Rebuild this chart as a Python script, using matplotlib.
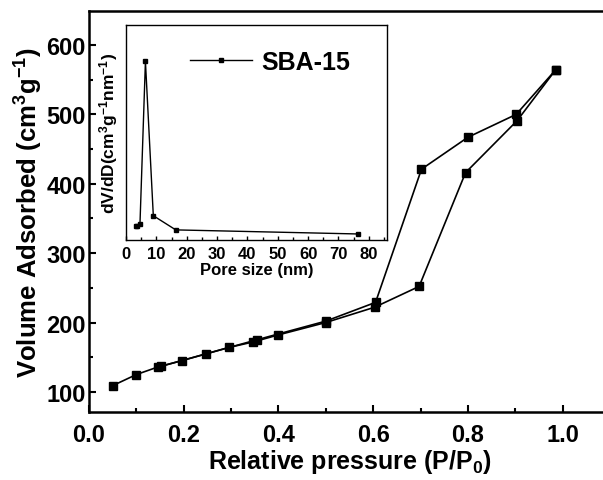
import matplotlib
matplotlib.use("Agg")
import matplotlib.pyplot as plt
from matplotlib.ticker import MultipleLocator

plt.rcParams['font.family'] = ['Liberation Sans', 'DejaVu Sans']
plt.rcParams['font.weight'] = 'bold'
plt.rcParams['mathtext.fontset'] = 'custom'
plt.rcParams['mathtext.rm'] = 'Liberation Sans:bold'
plt.rcParams['mathtext.it'] = 'Liberation Sans:bold'
plt.rcParams['mathtext.bf'] = 'Liberation Sans:bold'
plt.rcParams['mathtext.default'] = 'bf'

# Main isotherm data
p_ads = [0.05, 0.10, 0.146, 0.196, 0.248, 0.295, 0.347, 0.399, 0.50, 0.603, 0.697, 0.795, 0.904, 0.985]
v_ads = [109, 125, 136, 145, 155, 164, 172, 182, 200, 222, 252, 416, 491, 564]
p_des = [0.985, 0.902, 0.80, 0.702, 0.605, 0.50, 0.354, 0.153]
v_des = [564, 500, 467, 421, 229, 202, 175, 137]

# Inset pore size distribution (arbitrary units)
pore = [3.2, 3.7, 4.6, 6.4, 9.0, 16.4, 76.6]
dvdd = [0.064, 0.064, 0.073, 0.831, 0.113, 0.047, 0.028]

fig = plt.figure(figsize=(6.03, 4.81), dpi=100)
W, H = 603, 481
ax = fig.add_axes([89 / W, (H - 413) / H, (610 - 89) / W, (413 - 12) / H])

ax.plot(p_ads, v_ads, '-s', color='black', lw=1.2, ms=6, mfc='black', mec='black')
ax.plot(p_des, v_des, '-s', color='black', lw=1.2, ms=6, mfc='black', mec='black')
ax.set_xlim(0, 1.1)
ax.set_ylim(71, 649)
ax.xaxis.set_major_locator(MultipleLocator(0.2))
ax.xaxis.set_minor_locator(MultipleLocator(0.1))
ax.yaxis.set_major_locator(MultipleLocator(100))
ax.yaxis.set_minor_locator(MultipleLocator(50))
ax.set_xticks([0.0, 0.2, 0.4, 0.6, 0.8, 1.0])
ax.set_xticklabels(['0.0', '0.2', '0.4', '0.6', '0.8', '1.0'])
ax.tick_params(which='both', direction='in', width=1.5, top=False, right=False)
ax.tick_params(which='major', length=5)
ax.tick_params(which='minor', length=3)
ax.tick_params(axis='x', labelsize=17, pad=8)
ax.tick_params(axis='y', labelsize=17, pad=2.5)
for lab in ax.get_xticklabels() + ax.get_yticklabels():
    lab.set_fontweight('bold')
for s in ['left', 'bottom', 'top']:
    ax.spines[s].set_linewidth(1.8)
ax.spines['right'].set_visible(False)

ax.set_xlabel(r'Relative pressure (P/P$_{0}$)', fontsize=18, fontweight='bold')
ax.set_ylabel(r'Volume Adsorbed (cm$^{3}$g$^{-1}$)', fontsize=18.5, fontweight='bold')
ax.yaxis.set_label_coords((45 - 89) / (610 - 89), 0.5)
ax.xaxis.set_label_coords(0.5, (413 - 448) / (413 - 12))

# Inset
axi = fig.add_axes([126 / W, (H - 241) / H, (387 - 126) / W, (241 - 26) / H])
axi.plot(pore, dvdd, '-s', color='black', lw=1.0, ms=3, mfc='black', mec='black', label='SBA-15')
axi.set_xlim(0, 86)
axi.set_ylim(0, 1.0)
axi.xaxis.set_major_locator(MultipleLocator(10))
axi.xaxis.set_minor_locator(MultipleLocator(5))
axi.set_yticks([])
axi.tick_params(which='both', direction='in', width=1.0)
axi.tick_params(which='major', length=3)
axi.tick_params(which='minor', length=2)
axi.tick_params(axis='x', labelsize=12, pad=4)
for lab in axi.get_xticklabels():
    lab.set_fontweight('bold')
for s in axi.spines.values():
    s.set_linewidth(1.0)
axi.set_xlabel('Pore size (nm)', fontsize=12, fontweight='bold', labelpad=1)
axi.set_ylabel(r'dV/dD(cm$^{3}$g$^{-1}$nm$^{-1}$)', fontsize=12.5, fontweight='bold', labelpad=4)
leg = axi.legend(loc='center left', bbox_to_anchor=(0.245, 0.828), frameon=False,
                 handlelength=2.5, handletextpad=0.35, borderpad=0,
                 borderaxespad=0, prop={'weight': 'bold', 'size': 18})

fig.savefig('out.png', dpi=100)
